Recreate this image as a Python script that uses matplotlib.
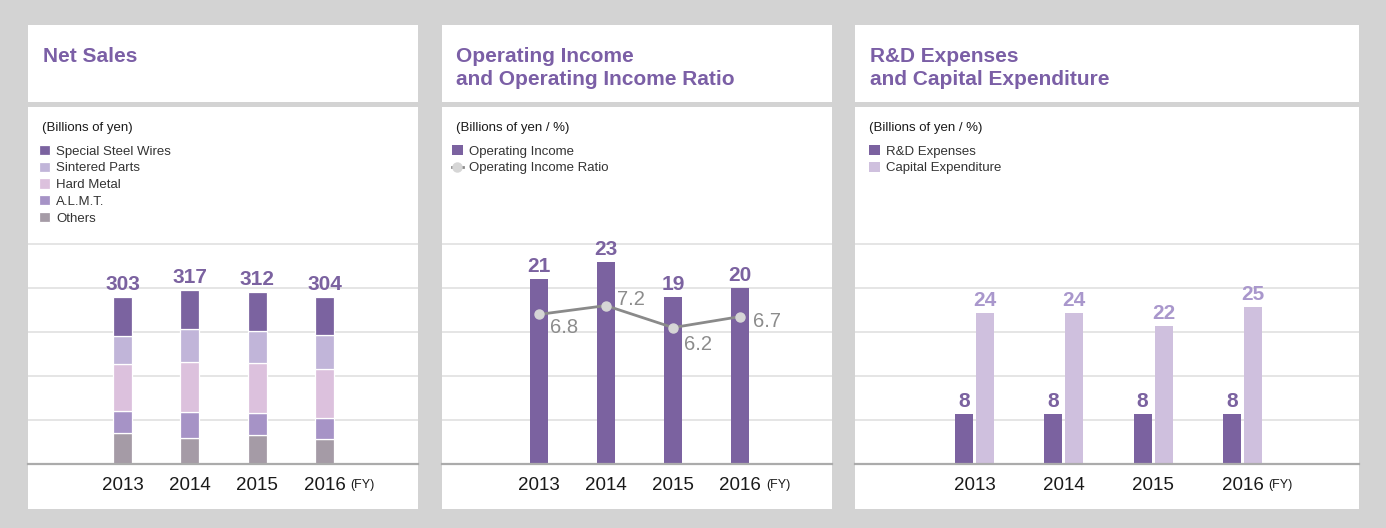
import matplotlib
matplotlib.use("Agg")
import matplotlib.pyplot as plt
from matplotlib.patches import Rectangle
import numpy as np

# ---------------- data ----------------
years = ["2013", "2014", "2015", "2016"]

# Net sales (billions of yen), by segment
ssw = [70, 72, 71, 70]            # Special Steel Wires
sintered = [51, 60, 58, 62]       # Sintered Parts
hard_metal = [85, 91, 91, 88]     # Hard Metal
almt = [41, 47, 39, 39]           # A.L.M.T.
others = [56, 47, 53, 45]         # Others
net_sales_total = [303, 317, 312, 304]

# Operating income (billions of yen) and ratio (%)
op_income = [21, 23, 19, 20]
op_ratio = [6.8, 7.2, 6.2, 6.7]

# R&D expenses and capital expenditure (billions of yen)
rd_exp = [8, 8, 8, 8]
capex = [24, 24, 22, 25]

# ---------------- style ----------------
W, H = 1386, 528
DPI = 100
FONT = "Liberation Sans"
plt.rcParams["font.family"] = [FONT, "DejaVu Sans"]

BG = "#d3d3d3"
TITLE_C = "#7b5fa6"
PURPLE = "#7b62a0"
C_SSW = "#7b63a0"
C_SINT = "#c1b5d9"
C_HARD = "#dcc1dd"
C_ALMT = "#a693c6"
C_OTH = "#a59ba6"
C_CAPEX = "#cfc0de"
C_CAPEX_TXT = "#a997cc"
GRID_C = "#e3e3e3"
BASE_C = "#ababab"
LINE_C = "#8a8a8a"
RATIO_TXT = "#8c8c8c"
LABEL_FS = 15

fig = plt.figure(figsize=(W / DPI, H / DPI), dpi=DPI, facecolor=BG)


def fx(x):
    return x / W


def fy(y):
    return 1 - y / H


def panel(x0, x1):
    # title area and chart area (white boxes)
    fig.patches.append(Rectangle((fx(x0), fy(102)), (x1 - x0) / W, (102 - 25) / H,
                                 transform=fig.transFigure, facecolor="white",
                                 edgecolor="none", zorder=-10))
    fig.patches.append(Rectangle((fx(x0), fy(509)), (x1 - x0) / W, (509 - 106.5) / H,
                                 transform=fig.transFigure, facecolor="white",
                                 edgecolor="none", zorder=-10))


def style_axes(ax):
    ax.set_facecolor("none")
    for s in ("top", "left", "right"):
        ax.spines[s].set_visible(False)
    ax.spines["bottom"].set_color(BASE_C)
    ax.spines["bottom"].set_linewidth(1.6)
    ax.spines["bottom"].set_zorder(5)
    ax.tick_params(axis="y", left=False, right=False, labelleft=False, labelright=False)
    ax.tick_params(axis="x", length=0, pad=9, labelsize=13.5, labelcolor="#1a1a1a")


def make_axes(x0, x1, top, base=464):
    ax = fig.add_axes([fx(x0), fy(base), (x1 - x0) / W, (base - top) / H])
    style_axes(ax)
    ax.yaxis.grid(True, color=GRID_C, linewidth=1.3)
    ax.set_axisbelow(True)
    return ax


def fy_suffix(ax):
    ax.annotate("(FY)", xy=(3, 0), xycoords=("data", "axes fraction"),
                xytext=(26, -24), textcoords="offset pixels",
                ha="left", va="baseline", fontsize=9, color="#1a1a1a")


def title(x, lines):
    for i, ln in enumerate(lines):
        fig.text(fx(x), fy(62 + 23.3 * i), ln, fontsize=15, color=TITLE_C,
                 fontweight="bold", ha="left", va="baseline")


def subtitle(x, txt):
    fig.text(fx(x), fy(131), txt, fontsize=9.5, color="#1a1a1a",
             ha="left", va="baseline")


def legend(ax, handles, labels, x, y):
    lg = ax.legend(handles, labels, loc="upper left",
                   bbox_to_anchor=(fx(x), fy(y)), bbox_transform=fig.transFigure,
                   frameon=False, fontsize=9.5, handlelength=0.8, handleheight=0.8,
                   handletextpad=0.5, labelspacing=0.31, borderaxespad=0,
                   borderpad=0, labelcolor="#333333")
    return lg


x = np.arange(len(years))

# ================= Panel 1: Net Sales =================
panel(28, 418)
title(43, ["Net Sales"])
subtitle(42, "(Billions of yen)")
ymax1 = 410
ax1 = make_axes(28, 418, 464 - 220 * ymax1 / 400)
ax1.set_ylim(0, ymax1)
ax1.set_yticks([80, 160, 240, 320, 400])
sp1 = 67.33
ax1.set_xlim(-(122.5 - 28) / sp1, 3 + (418 - 324.5) / sp1)
bw1 = 19 / sp1
segs = [("Others", others, C_OTH), ("A.L.M.T.", almt, C_ALMT),
        ("Hard Metal", hard_metal, C_HARD), ("Sintered Parts", sintered, C_SINT),
        ("Special Steel Wires", ssw, C_SSW)]
bottom = np.zeros(len(years))
conts = {}
for name, vals, col in segs:
    c = ax1.bar(x, vals, bw1, bottom=bottom, color=col, edgecolor="white",
                linewidth=0.9, label=name, zorder=2)
    conts[name] = c
    bottom += np.array(vals)
for xi, tot in zip(x, net_sales_total):
    ax1.annotate(str(tot), xy=(xi, bottom[xi]), xytext=(0, 7),
                 textcoords="offset pixels", ha="center", va="baseline",
                 fontsize=LABEL_FS, fontweight="bold", color=PURPLE)
ax1.set_xticks(x, years)
fy_suffix(ax1)
order = ["Special Steel Wires", "Sintered Parts", "Hard Metal", "A.L.M.T.", "Others"]
legend(ax1, [conts[n] for n in order], order, 39, 145)

# ================= Panel 2: Operating Income =================
panel(442, 832)
title(456, ["Operating Income", "and Operating Income Ratio"])
subtitle(456, "(Billions of yen / %)")
ymax2 = 25.6
ax2 = make_axes(442, 832, 464 - 220 * ymax2 / 25)
ax2.set_ylim(0, ymax2)
ax2.set_yticks([5, 10, 15, 20, 25])
sp2 = 67.0
ax2.set_xlim(-(539 - 442) / sp2, 3 + (832 - 740) / sp2)
bw2 = 18 / sp2
b2 = ax2.bar(x, op_income, bw2, color=PURPLE, zorder=2, label="Operating Income")
for xi, v in zip(x, op_income):
    ax2.annotate(str(v), xy=(xi, v), xytext=(0, 7), textcoords="offset pixels",
                 ha="center", va="baseline", fontsize=LABEL_FS, fontweight="bold",
                 color=PURPLE)
ax2.set_xticks(x, years)
fy_suffix(ax2)
ax2r = ax2.twinx()
ax2r.set_ylim(0, ymax2 * 10 / 25)
style_axes(ax2r)
ax2r.spines["bottom"].set_visible(False)
style_axes(ax2)
ax2r.tick_params(axis="x", labelbottom=False)
ln, = ax2r.plot(x, op_ratio, color=LINE_C, linewidth=2.0, marker="o",
                markersize=6.5, markerfacecolor="#d6d6d6", markeredgecolor="#d6d6d6",
                zorder=4, label="Operating Income Ratio")
ratio_offsets = [(11, -13), (11, 6), (11, -17), (13, -5)]
for xi, v, off in zip(x, op_ratio, ratio_offsets):
    ax2r.annotate(f"{v:.1f}", xy=(xi, v), xytext=off, textcoords="offset pixels",
                  ha="left", va="center", fontsize=14.5, color=RATIO_TXT)
legend(ax2r, [b2, ln], ["Operating Income", "Operating Income Ratio"], 452, 145)

# ================= Panel 3: R&D / Capex =================
panel(855, 1359)
title(870, ["R&D Expenses", "and Capital Expenditure"])
subtitle(869, "(Billions of yen / %)")
ymax3 = 35.9
ax3 = make_axes(855, 1359, 464 - 220 * ymax3 / 35)
ax3.set_ylim(0, ymax3)
ax3.set_yticks([7, 14, 21, 28, 35])
sp3 = 89.33
ax3.set_xlim(-(974.5 - 855) / sp3, 3 + (1359 - 1242.5) / sp3)
bw3 = 18 / sp3
off3 = 10.5 / sp3
b3a = ax3.bar(x - off3, rd_exp, bw3, color=PURPLE, zorder=2, label="R&D Expenses")
b3b = ax3.bar(x + off3, capex, bw3, color=C_CAPEX, zorder=2, label="Capital Expenditure")
for xi, v in zip(x, rd_exp):
    ax3.annotate(str(v), xy=(xi - off3, v), xytext=(0, 7), textcoords="offset pixels",
                 ha="center", va="baseline", fontsize=LABEL_FS, fontweight="bold",
                 color=PURPLE)
for xi, v in zip(x, capex):
    ax3.annotate(str(v), xy=(xi + off3, v), xytext=(0, 7), textcoords="offset pixels",
                 ha="center", va="baseline", fontsize=LABEL_FS, fontweight="bold",
                 color=C_CAPEX_TXT)
ax3.set_xticks(x, years)
fy_suffix(ax3)
legend(ax3, [b3a, b3b], ["R&D Expenses", "Capital Expenditure"], 869, 145)

fig.savefig("out.png", dpi=DPI, facecolor=BG)
